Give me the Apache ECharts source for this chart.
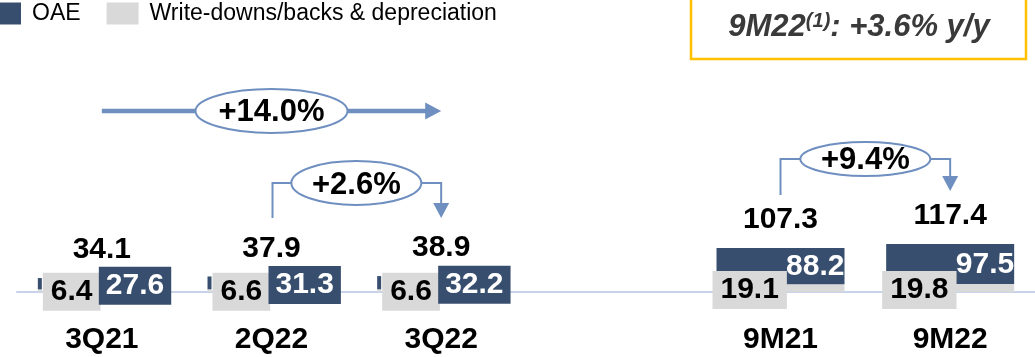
<!DOCTYPE html>
<html>
<head>
<meta charset="utf-8">
<script src="https://cdn.jsdelivr.net/npm/echarts@6/dist/echarts.min.js"></script>
<style>
  html, body { margin: 0; padding: 0; background: #ffffff; }
  #chart { width: 1035px; height: 357px; }
</style>
</head>
<body>
<div id="chart"></div>
<script>
// Periods on the category axis (the empty slot separates quarters from 9M figures)
const categories = ['3Q21', '2Q22', '3Q22', '', '9M21', '9M22'];

// Quarterly values (EUR m)
const oaeQuarter = [27.6, 31.3, 32.2, '-', '-', '-'];
const writeDownsQuarter = [6.4, 6.6, 6.6, '-', '-', '-'];

// Nine-month values (EUR m)
const oaeNineMonths = ['-', '-', '-', '-', 88.2, 97.5];
const writeDownsNineMonths = ['-', '-', '-', '-', 19.1, 19.8];

// Totals shown above each period
const totals = [34.1, 37.9, 38.9, '-', 107.3, 117.4];

// Growth call-outs
const growthYoyQuarter = '+14.0%';
const growthQoq = '+2.6%';
const growthNineMonths = '+9.4%';

// Headline box
const headlineMain = '9M22';
const headlineNote = '(1)';
const headlineRest = ': +3.6% y/y';

const seriesNames = ['OAE', 'Write-downs/backs & depreciation'];

const FONT = "'Liberation Sans', Arial, Helvetica, sans-serif";
const DARK = '#384e6f';
const GREY = '#d9d9d9';
const ARROW = '#6f8fc0';

const chart = echarts.init(document.getElementById('chart'), null, { renderer: 'canvas' });

const boldLabel = {
  fontFamily: FONT, fontWeight: 'bold', fontSize: 30, lineHeight: 31
};

const totalPoints = totals
  .map(function (v, i) { return [i, v]; })
  .filter(function (d) { return d[1] !== '-'; });

chart.setOption({
  animation: false,
  backgroundColor: '#ffffff',
  textStyle: { fontFamily: FONT },
  legend: {
    data: [seriesNames[0], seriesNames[1]],
    left: -11, top: 2, padding: 0,
    itemWidth: 32, itemHeight: 22, itemGap: 26,
    icon: 'rect',
    selectedMode: false,
    textStyle: { fontFamily: FONT, fontSize: 23, color: '#000', padding: [0, 0, 0, 6] }
  },
  grid: { left: 17, right: -2, top: 0, bottom: 65 },
  xAxis: {
    type: 'category',
    data: categories,
    axisTick: { show: false },
    axisLine: { lineStyle: { color: '#c6d3ea', width: 2 } },
    axisLabel: Object.assign({ color: '#000', margin: 32, interval: 0 }, boldLabel)
  },
  yAxis: { type: 'value', min: 0, max: 712, show: false },
  series: [
    {
      name: seriesNames[1], type: 'bar', stack: 'quarter', barWidth: 4, barGap: '-100%',
      data: writeDownsQuarter, itemStyle: { color: GREY },
      label: Object.assign({
        show: true, position: 'right', distance: 1, offset: [0, 1],
        color: '#000', backgroundColor: GREY, padding: [4, 8, 3, 8]
      }, boldLabel)
    },
    {
      name: seriesNames[0], type: 'bar', stack: 'quarter', barWidth: 4, barGap: '-100%',
      data: oaeQuarter, itemStyle: { color: DARK },
      label: Object.assign({
        show: true, position: 'right', distance: 57, offset: [0, 2],
        color: '#fff', backgroundColor: DARK, padding: [4, 7, 3, 7]
      }, boldLabel)
    },
    {
      name: seriesNames[1], type: 'bar', stack: 'nine', barWidth: 128, barGap: '-100%',
      data: writeDownsNineMonths, itemStyle: { color: GREY },
      label: Object.assign({
        show: true, position: 'insideLeft', distance: 0, offset: [-4, 2],
        color: '#000', backgroundColor: GREY, padding: [4, 8, 3, 8]
      }, boldLabel)
    },
    {
      name: seriesNames[0], type: 'bar', stack: 'nine', barWidth: 128, barGap: '-100%',
      data: oaeNineMonths, itemStyle: { color: DARK },
      label: Object.assign({
        show: true, position: 'insideRight', distance: 1, offset: [1, 1],
        color: '#fff', padding: 0
      }, boldLabel)
    },
    {
      // totals written above each period, placed through the axes
      name: 'Total', type: 'custom', data: totalPoints, z: 5,
      renderItem: function (params, api) {
        const v = api.value(1);
        const p = api.coord([api.value(0), v]);
        return {
          type: 'text', x: p[0], y: p[1] - 28,
          style: {
            text: v.toFixed(1), fontFamily: FONT, fontWeight: 'bold', fontSize: 30,
            fill: '#000', align: 'center', verticalAlign: 'middle'
          }
        };
      }
    }
  ]
});

// Growth call-outs anchored on the category positions
function px(cat) { return chart.convertToPixel({ xAxisIndex: 0 }, cat); }

const xA = px(categories[0]);
const xB = px(categories[1]);
const xC = px(categories[2]);
const xD = px(categories[4]);
const xE = px(categories[5]);

function ellipse(cx, cy, rx, ry) {
  return {
    type: 'ellipse', shape: { cx: cx, cy: cy, rx: rx, ry: ry },
    style: { fill: '#fff', stroke: ARROW, lineWidth: 2 }, z: 10
  };
}
function pctText(cx, cy, text) {
  return {
    type: 'text', x: cx, y: cy, z: 11,
    style: {
      text: text, fontFamily: FONT, fontWeight: 'bold', fontSize: 31,
      fill: '#000', align: 'center', verticalAlign: 'middle'
    }
  };
}
function line(points, width) {
  return {
    type: 'polyline', shape: { points: points },
    style: { stroke: ARROW, lineWidth: width, fill: null }, z: 9
  };
}
function arrowHead(tip, dir, len, half) {
  let pts;
  if (dir === 'right') pts = [[tip[0], tip[1]], [tip[0] - len, tip[1] - half], [tip[0] - len, tip[1] + half]];
  else pts = [[tip[0], tip[1]], [tip[0] - half, tip[1] - len], [tip[0] + half, tip[1] - len]];
  return { type: 'polygon', shape: { points: pts }, style: { fill: ARROW }, z: 9 };
}

const yBig = 111;
const ySmallQ = 183;
const ySmall9 = 159;

const midQ = (xB + xC) / 2;
const mid9 = (xD + xE) / 2;

chart.setOption({
  graphic: [
    // year-on-year quarter arrow
    line([[xA, yBig], [xC - 14, yBig]], 4.5),
    arrowHead([xC, yBig], 'right', 16, 8.5),
    ellipse(xB, yBig, 76, 22),
    pctText(xB, yBig + 1, growthYoyQuarter),

    // quarter-on-quarter connector
    line([[xB + 1, 218], [xB + 1, ySmallQ], [midQ, ySmallQ], [xC, ySmallQ], [xC, 204]], 2),
    arrowHead([xC, 218], 'down', 15, 8),
    ellipse(midQ, ySmallQ, 65, 22),
    pctText(midQ, ySmallQ + 2, growthQoq),

    // nine-month connector
    line([[xD, 195], [xD, ySmall9], [mid9, ySmall9], [xE, ySmall9], [xE, 177]], 2),
    arrowHead([xE, 191], 'down', 15, 8),
    ellipse(mid9, ySmall9, 65, 17),
    pctText(mid9, ySmall9 + 1, growthNineMonths),

    // headline box
    {
      type: 'rect', shape: { x: 691, y: -10, width: 335, height: 69 },
      style: { fill: '#fff', stroke: '#ffc000', lineWidth: 2.5 }, z: 10
    },
    {
      type: 'text', x: 859, y: 27, z: 11,
      style: {
        text: '{m|' + headlineMain + '}{s|' + headlineNote + '}{m|' + headlineRest + '}',
        align: 'center', verticalAlign: 'middle',
        rich: {
          m: { fontFamily: FONT, fontWeight: 'bold', fontStyle: 'italic', fontSize: 31, lineHeight: 32, fill: '#3a3a3a' },
          s: { fontFamily: FONT, fontWeight: 'bold', fontStyle: 'italic', fontSize: 20, lineHeight: 20, verticalAlign: 'top', fill: '#3a3a3a' }
        }
      }
    }
  ]
});
</script>
</body>
</html>
